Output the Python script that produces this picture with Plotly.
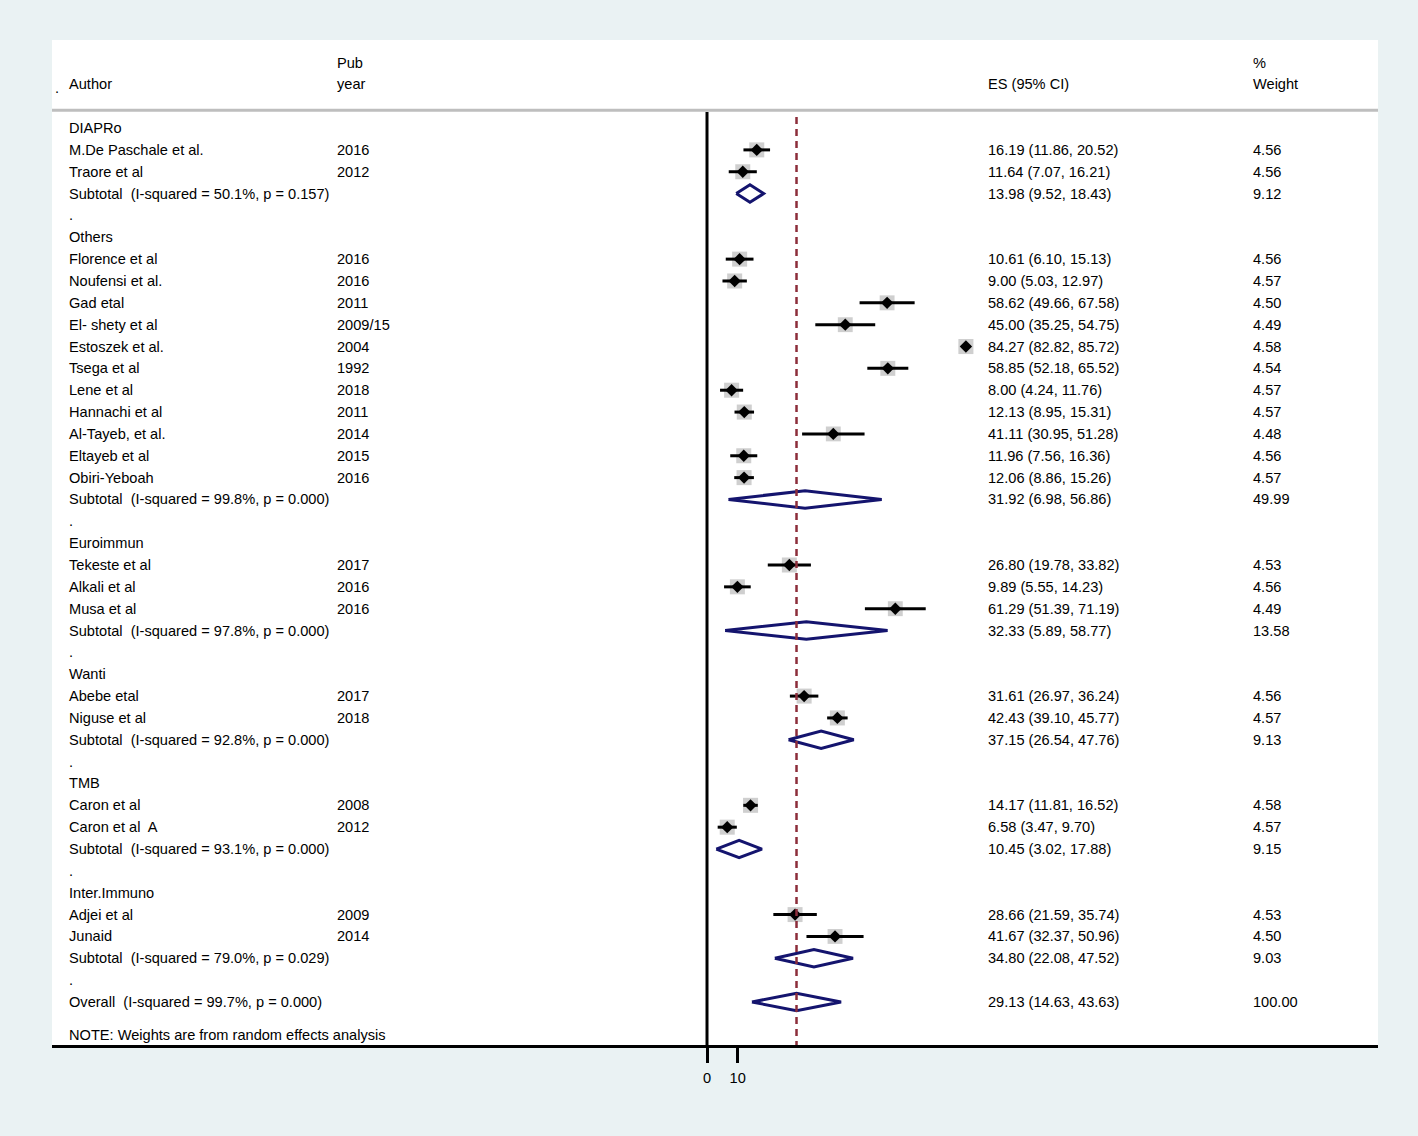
import plotly.graph_objects as go

# ---------------- data ----------------
group_names = ["DIAPRo", "Others", "Euroimmun", "Wanti", "TMB", "Inter.Immuno"]

study_group = [0, 0,
               1, 1, 1, 1, 1, 1, 1, 1, 1, 1, 1,
               2, 2, 2,
               3, 3,
               4, 4,
               5, 5]
study_author = ["M.De Paschale et al.", "Traore et al",
                "Florence et al", "Noufensi et al.", "Gad etal", "El- shety et al",
                "Estoszek et al.", "Tsega et al", "Lene et al", "Hannachi et al",
                "Al-Tayeb, et al.", "Eltayeb et al", "Obiri-Yeboah",
                "Tekeste et al", "Alkali et al", "Musa et al",
                "Abebe etal", "Niguse et al",
                "Caron et al", "Caron et al  A",
                "Adjei et al", "Junaid"]
study_year = ["2016", "2012",
              "2016", "2016", "2011", "2009/15", "2004", "1992", "2018", "2011",
              "2014", "2015", "2016",
              "2017", "2016", "2016",
              "2017", "2018",
              "2008", "2012",
              "2009", "2014"]
study_es = [16.19, 11.64,
            10.61, 9.00, 58.62, 45.00, 84.27, 58.85, 8.00, 12.13, 41.11, 11.96, 12.06,
            26.80, 9.89, 61.29,
            31.61, 42.43,
            14.17, 6.58,
            28.66, 41.67]
study_lo = [11.86, 7.07,
            6.10, 5.03, 49.66, 35.25, 82.82, 52.18, 4.24, 8.95, 30.95, 7.56, 8.86,
            19.78, 5.55, 51.39,
            26.97, 39.10,
            11.81, 3.47,
            21.59, 32.37]
study_hi = [20.52, 16.21,
            15.13, 12.97, 67.58, 54.75, 85.72, 65.52, 11.76, 15.31, 51.28, 16.36, 15.26,
            33.82, 14.23, 71.19,
            36.24, 45.77,
            16.52, 9.70,
            35.74, 50.96]
study_wt = [4.56, 4.56,
            4.56, 4.57, 4.50, 4.49, 4.58, 4.54, 4.57, 4.57, 4.48, 4.56, 4.57,
            4.53, 4.56, 4.49,
            4.56, 4.57,
            4.58, 4.57,
            4.53, 4.50]

sub_i2 = ["50.1%", "99.8%", "97.8%", "92.8%", "93.1%", "79.0%"]
sub_p = ["0.157", "0.000", "0.000", "0.000", "0.000", "0.029"]
sub_es = [13.98, 31.92, 32.33, 37.15, 10.45, 34.80]
sub_lo = [9.52, 6.98, 5.89, 26.54, 3.02, 22.08]
sub_hi = [18.43, 56.86, 58.77, 47.76, 17.88, 47.52]
sub_wt = [9.12, 49.99, 13.58, 9.13, 9.15, 9.03]

overall_i2 = "99.7%"
overall_p = "0.000"
overall_es = 29.13
overall_lo = 14.63
overall_hi = 43.63
overall_wt = 100.00

tick_vals = [0, 10]
tick_text = ["0", "10"]

# ---------------- layout of rows ----------------
FONT = "Liberation Sans, Arial, sans-serif"
FS = 14.6
X_AUTHOR, X_YEAR, X_ES, X_WT = 0.0112, 0.2138, 0.7043, 0.9040

rows_text = []  # (row, author, year, es_text, wt_text)
study_row = []
sub_row = []
r = 0
for g, name in enumerate(group_names):
    rows_text.append((r, name, "", "", ""))
    r += 1
    for i, sg in enumerate(study_group):
        if sg == g:
            study_row.append(r)
            rows_text.append((r, study_author[i], study_year[i],
                              f"{study_es[i]:.2f} ({study_lo[i]:.2f}, {study_hi[i]:.2f})",
                              f"{study_wt[i]:.2f}"))
            r += 1
    sub_row.append(r)
    rows_text.append((r, f"Subtotal  (I-squared = {sub_i2[g]}, p = {sub_p[g]})", "",
                      f"{sub_es[g]:.2f} ({sub_lo[g]:.2f}, {sub_hi[g]:.2f})",
                      f"{sub_wt[g]:.2f}"))
    r += 1
    rows_text.append((r, ".", "", "", ""))
    r += 1
overall_row = r
rows_text.append((r, f"Overall  (I-squared = {overall_i2}, p = {overall_p})", "",
                  f"{overall_es:.2f} ({overall_lo:.2f}, {overall_hi:.2f})",
                  f"{overall_wt:.2f}"))
note_row = r + 1.5

fig = go.Figure()

# weight boxes
fig.add_trace(go.Scatter(
    x=study_es, y=study_row, mode="markers",
    marker=dict(symbol="square", size=[15 * (w / 4.56) ** 0.5 for w in study_wt],
                color="#BBBBBB", line=dict(width=0)),
    hoverinfo="skip", showlegend=False))

# CI lines
cx, cy = [], []
for lo, hi, rr in zip(study_lo, study_hi, study_row):
    cx += [lo, hi, None]
    cy += [rr, rr, None]
fig.add_trace(go.Scatter(x=cx, y=cy, mode="lines",
                         line=dict(color="black", width=3),
                         hoverinfo="skip", showlegend=False))

# point estimates
fig.add_trace(go.Scatter(
    x=study_es, y=study_row, mode="markers",
    marker=dict(symbol="diamond", size=9.5, color="black", line=dict(width=0)),
    hoverinfo="skip", showlegend=False))

# pooled diamonds
H = 0.4
dx, dy = [], []
for es, lo, hi, rr in list(zip(sub_es, sub_lo, sub_hi, sub_row)) + \
        [(overall_es, overall_lo, overall_hi, overall_row)]:
    dx += [lo, es, hi, es, lo, None]
    dy += [rr, rr - H, rr, rr + H, rr, None]
fig.add_trace(go.Scatter(x=dx, y=dy, mode="lines",
                         line=dict(color="#14146E", width=3),
                         hoverinfo="skip", showlegend=False))

Y_TOP = -4.03
Y_BOT = 41.97
HEADER_LINE = -0.82

shapes = [
    dict(type="line", xref="paper", yref="y", x0=0, x1=1, y0=HEADER_LINE, y1=HEADER_LINE,
         line=dict(color="#BEBEBE", width=3)),
    dict(type="line", xref="x", yref="y", x0=0, x1=0, y0=HEADER_LINE + 0.08, y1=Y_BOT,
         line=dict(color="black", width=3)),
    dict(type="line", xref="x", yref="y", x0=overall_es, x1=overall_es, y0=-0.5, y1=Y_BOT,
         line=dict(color="#8C2D3A", width=2.5, dash="7px,5px")),
]

ann = []
def add(x, y, text):
    ann.append(dict(x=x, y=y, xref="paper", yref="y", text=text, showarrow=False,
                    xanchor="left", yanchor="middle",
                    font=dict(family=FONT, size=FS, color="black")))

# headers
add(X_YEAR, -3, "Pub")
add(X_WT, -3, "%")
add(0.001, -1.85, ".")
add(X_AUTHOR, -2, "Author")
add(X_YEAR, -2, "year")
add(X_ES, -2, "ES (95% CI)")
add(X_WT, -2, "Weight")

for rr, a, yv, e, w in rows_text:
    if a:
        add(X_AUTHOR, rr, a)
    if yv:
        add(X_YEAR, rr, yv)
    if e:
        add(X_ES, rr, e)
    if w:
        add(X_WT, rr, w)
add(X_AUTHOR, note_row, "NOTE: Weights are from random effects analysis")

fig.update_layout(
    width=1418, height=1136,
    margin=dict(l=52, r=40, t=40, b=91, pad=0),
    paper_bgcolor="#EAF2F3",
    plot_bgcolor="white",
    shapes=shapes,
    annotations=ann,
    showlegend=False,
    xaxis=dict(range=[-213.2, 218.4], showgrid=False, zeroline=False,
               showline=True, linecolor="black", linewidth=3,
               ticks="outside", ticklen=15, tickwidth=3, tickcolor="black",
               tickvals=tick_vals, ticktext=tick_text, ticklabelstandoff=2,
               tickfont=dict(family=FONT, size=FS, color="black"), fixedrange=True),
    yaxis=dict(range=[Y_BOT, Y_TOP], showgrid=False, zeroline=False, showline=False,
               showticklabels=False, ticks="", fixedrange=True),
)

fig.write_html("out.html",
               config={"displayModeBar": False},
               post_script="document.body.style.margin='0';"
                           "document.body.style.overflow='hidden';"
                           "document.body.style.background='#EAF2F3';")
